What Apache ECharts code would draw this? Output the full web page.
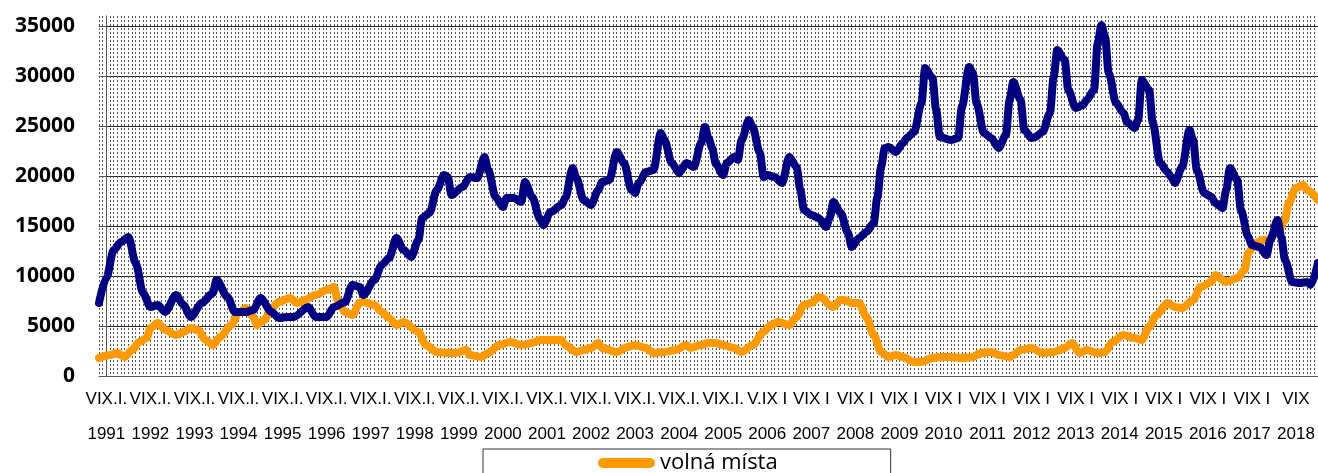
<!DOCTYPE html>
<html>
<head>
<meta charset="utf-8">
<script src="https://cdn.jsdelivr.net/npm/echarts@6/dist/echarts.min.js"></script>
<style>
html, body { margin: 0; padding: 0; background: #fff; }
#chart { width: 1318px; height: 473px; }
</style>
</head>
<body>
<div id="chart"></div>
<script>
// months counted from I.1991 (0 = leden 1991)
var years = [1991, 1992, 1993, 1994, 1995, 1996, 1997, 1998, 1999, 2000, 2001, 2002, 2003, 2004,
	2005, 2006, 2007, 2008, 2009, 2010, 2011, 2012, 2013, 2014, 2015, 2016, 2017, 2018];
var monthRow = ['VIX.I.', 'VIX.I.', 'VIX.I.', 'VIX.I.', 'VIX.I.', 'VIX.I.', 'VIX.I.', 'VIX.I.', 'VIX.I.',
	'VIX.I.', 'VIX.I.', 'VIX.I.', 'VIX.I.', 'VIX.I.', 'VIX.I.', 'V.IX I', 'VIX I', 'VIX I', 'VIX I',
	'VIX I', 'VIX I', 'VIX I', 'VIX I', 'VIX I', 'VIX I', 'VIX I', 'VIX I', 'VIX'];
var yTicks = [0, 5000, 10000, 15000, 20000, 25000, 30000, 35000];

var uchazeciMonth = [-2, 0, 2, 4, 6, 8, 10, 12, 14, 16, 19, 21, 23, 26, 29, 30, 33, 35, 38, 40, 42, 45, 47, 49, 51,
	55, 57, 60, 62, 65, 67, 69, 70, 73, 75, 77, 79, 81, 83, 85, 86, 88, 90, 92, 93, 94, 97, 99, 101, 103,
	104, 106, 108, 109, 111, 113, 114, 116, 118, 119, 121, 124, 125, 127, 128, 130, 132, 134, 135, 137,
	139, 141, 143, 144, 145, 147, 149, 151, 152, 154, 156, 158, 160, 162, 163, 164, 165, 166, 168, 169,
	171, 172, 173, 175, 176, 178, 179, 180, 182, 184, 186, 188, 189, 190, 192, 194, 196, 197, 198, 200,
	202, 203, 205, 207, 209, 210, 211, 212, 213, 215, 217, 218, 220, 222, 223, 225, 226, 227, 230, 232,
	233, 235, 236, 237, 239, 241, 243, 245, 246, 247, 249, 250, 252, 253, 255, 257, 258, 259, 261, 262,
	264, 266, 267, 269, 270, 271, 272, 273, 275, 277, 278, 280, 281, 282, 284, 285, 287, 289, 290, 291,
	293, 295, 296, 297, 299, 301, 302, 304, 305, 306, 308, 309, 311, 312, 314, 316, 317, 319, 320, 321,
	323, 325, 327, 328, 330];
var uchazeci = [7300, 9800, 12600, 13400, 13900, 11300, 8300, 6900, 7100, 6400, 8100, 7100, 5900, 7300, 8300,
	9600, 7900, 6400, 6400, 6600, 7800, 6400, 5800, 5900, 5900, 6900, 5900, 5900, 6900, 7400, 9100, 8900,
	8100, 9600, 11100, 11800, 13800, 12600, 11900, 13600, 15800, 16300, 18600, 20100, 19900, 18100, 18900,
	19900, 19800, 21900, 20600, 17900, 16900, 17800, 17800, 17400, 19400, 17900, 15800, 15100, 16400,
	17100, 17800, 20800, 19800, 17600, 17100, 18600, 19400, 19600, 22400, 21300, 18600, 18300, 19300,
	20400, 20600, 24300, 23600, 21300, 20300, 21300, 20900, 23300, 24900, 23800, 22800, 21200, 20100,
	21300, 21900, 21600, 23600, 25600, 24900, 22300, 19900, 20100, 19900, 19300, 21900, 20900, 18600,
	16600, 16100, 15800, 14900, 15800, 17400, 16300, 14300, 12900, 13800, 14400, 15300, 17900, 20900,
	22800, 22900, 22400, 23300, 23800, 24400, 27300, 30800, 29800, 26600, 23900, 23600, 23800, 26900,
	30900, 30300, 27300, 24300, 23800, 22800, 24100, 27600, 29400, 27600, 24600, 23800, 23900, 24400,
	26300, 29900, 32600, 31600, 28600, 26800, 27100, 27600, 28600, 33300, 35100, 33900, 30300, 27300,
	26300, 25400, 24800, 25600, 29600, 28600, 25300, 21300, 20400, 19900, 19300, 20900, 24600, 23600,
	20600, 18300, 17900, 17300, 16800, 18600, 20800, 19600, 16600, 13900, 13100, 12900, 12100, 13600,
	15600, 13900, 11600, 9400, 9300, 9400, 9100, 11300];

var mistaMonth = [-2, 1, 3, 5, 7, 9, 11, 12, 14, 16, 19, 21, 23, 25, 27, 29, 31, 34, 36, 38, 40, 41, 43, 45, 47,
	50, 52, 54, 57, 60, 62, 63, 65, 67, 69, 70, 73, 75, 77, 79, 81, 85, 87, 90, 93, 95, 98, 99, 102, 104,
	107, 110, 113, 116, 118, 121, 124, 125, 128, 130, 132, 134, 135, 139, 142, 144, 147, 149, 152, 155,
	158, 159, 162, 164, 166, 168, 171, 173, 176, 179, 181, 183, 186, 188, 190, 192, 194, 195, 197, 198,
	200, 201, 203, 205, 207, 209, 211, 213, 215, 217, 220, 222, 225, 227, 230, 233, 236, 238, 241, 243,
	246, 247, 249, 252, 255, 258, 261, 263, 265, 267, 270, 272, 274, 277, 280, 282, 284, 286, 289, 291,
	293, 296, 298, 301, 302, 305, 308, 310, 311, 313, 315, 316, 319, 321, 322, 324, 326, 327, 330];
var mista = [1800, 2100, 2300, 1900, 2600, 3400, 3800, 4800, 5300, 4600, 4100, 4400, 4800, 4600, 3600, 3100,
	3900, 5100, 6300, 6800, 5900, 5100, 5600, 6800, 7400, 7800, 7300, 7600, 8100, 8600, 8900, 7600, 6400,
	6100, 7300, 7400, 7100, 6400, 5800, 5100, 5400, 4400, 3100, 2400, 2300, 2300, 2600, 2100, 1900, 2300,
	3100, 3400, 3100, 3300, 3600, 3600, 3600, 3100, 2400, 2600, 2800, 3300, 2800, 2400, 2900, 3100, 2800,
	2300, 2400, 2600, 3100, 2800, 3100, 3300, 3300, 3100, 2800, 2400, 3100, 4400, 5100, 5400, 5100, 5900,
	7100, 7300, 7900, 7800, 7100, 6900, 7600, 7600, 7300, 7300, 5900, 4100, 2400, 1900, 2100, 1900, 1400,
	1400, 1800, 1900, 1900, 1800, 1900, 2300, 2400, 2100, 1900, 2100, 2600, 2800, 2300, 2400, 2800, 3300,
	2300, 2600, 2300, 2400, 3400, 4100, 3800, 3600, 4900, 6100, 7300, 6900, 6800, 7600, 8900, 9400, 10100,
	9400, 9800, 10600, 12300, 13300, 13600, 13600, 14400, 15600, 17300, 18800, 19100, 18600, 17600];

function pairs(months, values) {
	return months.map(function(m, i) {
		return [m, values[i]];
	});
}

var yearTicks = years.map(function(y) {
	return (y - 1991) * 12;
});

var myChart = echarts.init(document.getElementById('chart'));

var option = {
	backgroundColor: '#fff',
	animation: false,
	grid: {
		left: 99,
		right: 0,
		top: 16,
		bottom: 97
	},
	legend: {
		data: ['volná místa'],
		left: 483,
		top: 449,
		padding: [2, 113, 30, 115],
		borderColor: '#333',
		borderWidth: 1,
		backgroundColor: '#fff',
		itemWidth: 57,
		itemHeight: 10,
		icon: 'path://M5,0 H52 A5,5 0 0 1 52,10 H5 A5,5 0 0 1 5,0 Z',
		textStyle: {
			fontFamily: 'Open Sans',
			fontSize: 22,
			lineHeight: 24,
			color: '#000'
		}
	},
	xAxis: {
		type: 'value',
		min: -2,
		max: 330,
		interval: 1,
		axisLine: {
			lineStyle: {
				color: '#555'
			}
		},
		axisTick: {
			show: false
		},
		splitLine: {
			show: true,
			lineStyle: {
				color: '#555',
				width: 1,
				type: [2, 2]
			}
		},
		axisLabel: {
			customValues: yearTicks,
			margin: 6,
			formatter: function(v) {
				var i = Math.round(v / 12);
				return '{a|' + monthRow[i] + '}\n{b|' + years[i] + '}';
			},
			rich: {
				a: {
					fontFamily: 'Liberation Sans',
					fontSize: 17,
					lineHeight: 34,
					color: '#000'
				},
				b: {
					fontFamily: 'Liberation Sans',
					fontSize: 17,
					lineHeight: 36,
					color: '#000'
				}
			}
		}
	},
	yAxis: {
		type: 'value',
		min: 0,
		max: 36000,
		interval: 5000,
		axisLine: {
			show: true,
			lineStyle: {
				color: '#555'
			}
		},
		axisTick: {
			show: true,
			length: 7,
			customValues: yTicks,
			lineStyle: {
				color: '#555'
			}
		},
		axisLabel: {
			customValues: yTicks,
			margin: 24,
			fontFamily: 'Open Sans',
			fontWeight: 'bold',
			fontSize: 21,
			color: '#000',
			formatter: function(v) {
				return String(v);
			}
		},
		splitLine: {
			show: true,
			lineStyle: {
				color: '#222',
				width: 1
			}
		}
	},
	series: [{
		name: 'volná místa',
		type: 'line',
		data: pairs(mistaMonth, mista),
		showSymbol: false,
		smooth: 0.3,
		smoothMonotone: 'x',
		color: '#FF9900',
		lineStyle: {
			width: 8,
			color: '#FF9900',
			cap: 'round',
			join: 'round'
		}
	}, {
		name: 'uchazeči',
		type: 'line',
		data: pairs(uchazeciMonth, uchazeci),
		showSymbol: false,
		smooth: 0.3,
		smoothMonotone: 'x',
		color: '#000080',
		lineStyle: {
			width: 8,
			color: '#000080',
			cap: 'round',
			join: 'round'
		}
	}]
};

myChart.setOption(option);
</script>
</body>
</html>
